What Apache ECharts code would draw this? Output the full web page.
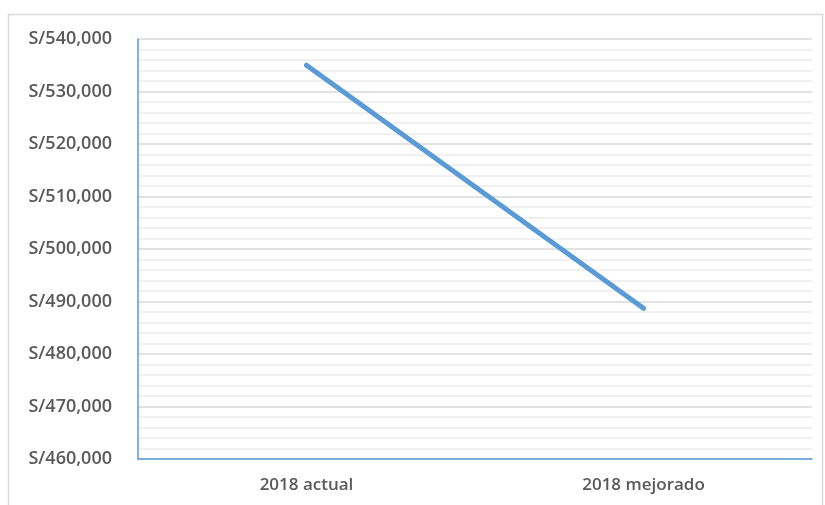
<!DOCTYPE html>
<html>
<head>
<meta charset="utf-8">
<script src="https://cdn.jsdelivr.net/npm/echarts@6/dist/echarts.min.js"></script>
<style>
  html, body { margin: 0; padding: 0; background: #ffffff; }
  #chart { width: 825px; height: 505px; }
</style>
</head>
<body>
<div id="chart"></div>
<script>
// Scenario labels and yearly totals (soles)
const categories = ['2018 actual', '2018 mejorado'];
const totals = [535000, 488700];

// Value axis range
const yMin = 460000;
const yMax = 540000;
const yStep = 10000;

const chart = echarts.init(document.getElementById('chart'), null, { renderer: 'canvas' });

const fmt = v => 'S/' + v.toLocaleString('en-US');

chart.setOption({
  animation: false,
  backgroundColor: '#ffffff',
  graphic: [{
    type: 'rect',
    shape: { x: 8.5, y: 14.5, width: 814, height: 500 },
    style: { fill: 'none', stroke: '#d9d9d9', lineWidth: 1.5 },
    silent: true,
    z: -1
  }],
  grid: { left: 138, top: 39, right: 13, bottom: 46, containLabel: false },
  xAxis: {
    type: 'category',
    data: categories,
    boundaryGap: true,
    axisLine: { show: true, lineStyle: { color: '#5b9bd5', width: 1.5 } },
    axisTick: { show: false },
    axisLabel: {
      margin: 18,
      color: '#595959',
      fontFamily: 'Open Sans',
      fontWeight: 600,
      fontSize: 17
    },
    splitLine: { show: false }
  },
  yAxis: {
    type: 'value',
    min: yMin,
    max: yMax,
    interval: yStep,
    axisLine: { show: true, lineStyle: { color: '#5b9bd5', width: 1.5 } },
    axisTick: { show: false },
    axisLabel: {
      margin: 26,
      color: '#595959',
      fontFamily: 'Open Sans',
      fontWeight: 600,
      fontSize: 18,
      formatter: fmt
    },
    splitLine: { show: true, lineStyle: { color: '#d9d9d9', width: 1.5 } },
    minorTick: { show: false, splitNumber: 5 },
    minorSplitLine: { show: true, lineStyle: { color: '#ececec', width: 1.5 } }
  },
  series: [{
    type: 'line',
    data: totals,
    symbol: 'none',
    lineStyle: { color: '#5b9bd5', width: 5, cap: 'round' },
    itemStyle: { color: '#5b9bd5' }
  }]
});
</script>
</body>
</html>
